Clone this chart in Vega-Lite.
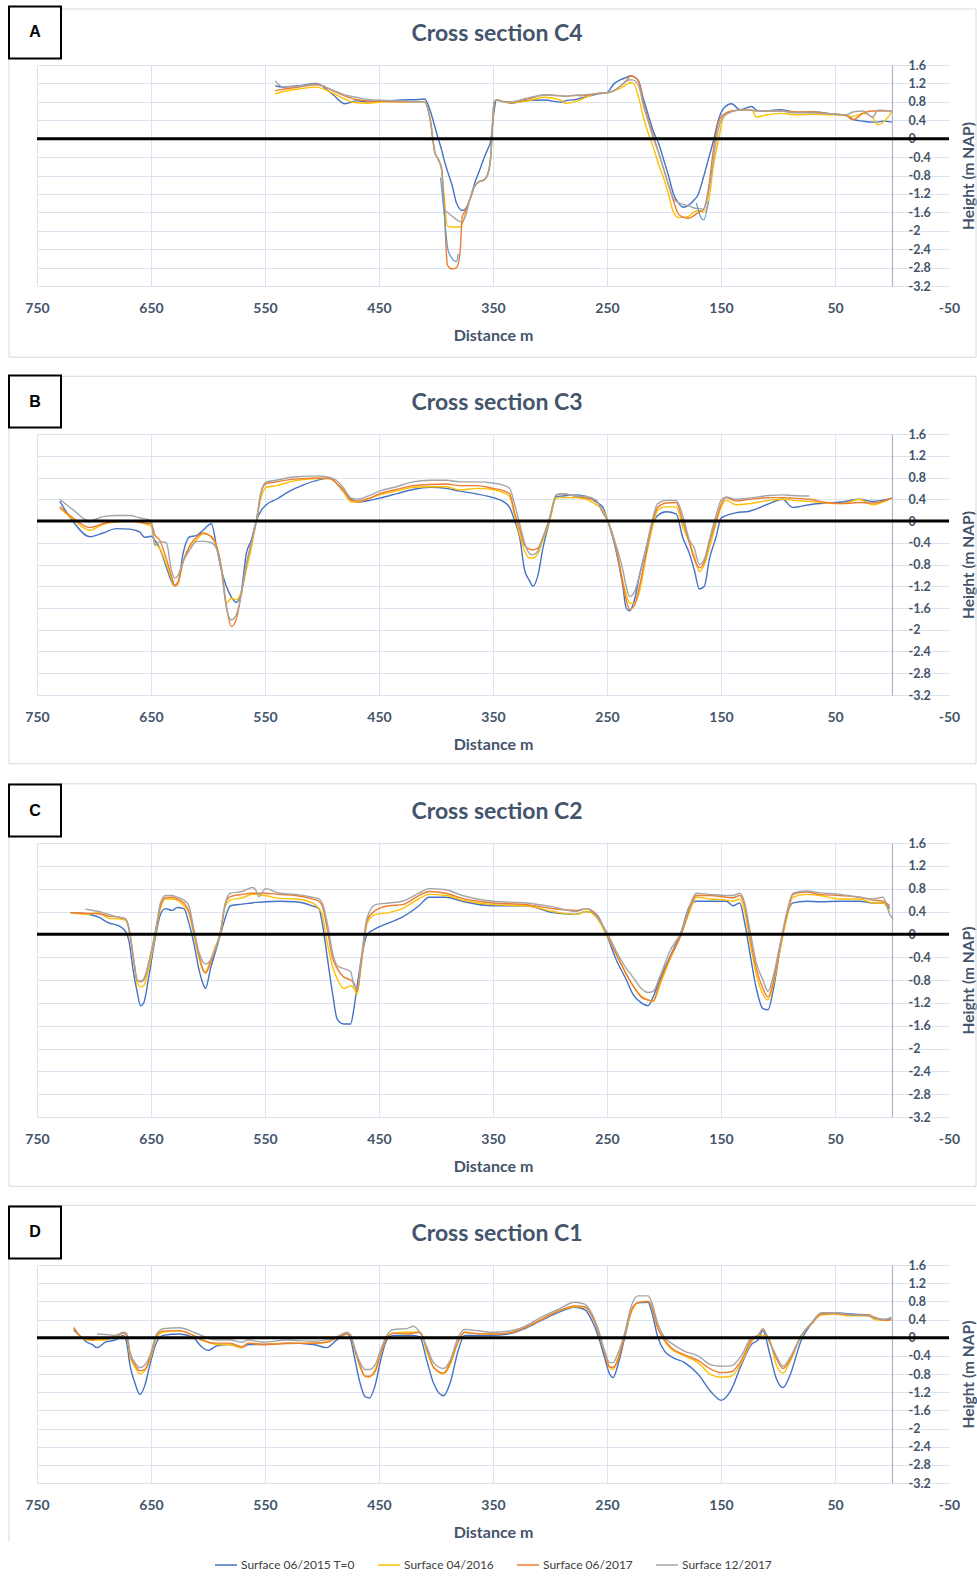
{
"$schema": "https://vega.github.io/schema/vega-lite/v6.json",
"padding": {"left": 8, "top": 5, "right": 0, "bottom": 5},
"spacing": 148,
"bounds": "flush",
"datasets": {
"sec": [
{"p":"A","d":541,"a":1.15,"b":0.97,"c":1.04,"e":1.26},
{"p":"A","d":535,"a":1.12,"b":1.02,"c":1.07,"e":1.13},
{"p":"A","d":520,"a":1.15,"b":1.08,"c":1.12,"e":1.14},
{"p":"A","d":505,"a":1.2,"b":1.12,"c":1.17,"e":1.19},
{"p":"A","d":495,"a":1.05,"b":1.04,"c":1.1,"e":1.1},
{"p":"A","d":490,"a":0.95,"b":0.98,"c":1.03,"e":1.05},
{"p":"A","d":480,"a":0.76,"b":0.86,"c":0.93,"e":0.95},
{"p":"A","d":470,"a":0.82,"b":0.78,"c":0.85,"e":0.9},
{"p":"A","d":460,"a":0.8,"b":0.77,"c":0.82,"e":0.85},
{"p":"A","d":445,"a":0.82,"b":0.8,"c":0.81,"e":0.83},
{"p":"A","d":430,"a":0.84,"b":0.8,"c":0.8,"e":0.82},
{"p":"A","d":415,"a":0.85,"b":0.8,"c":0.8,"e":0.8},
{"p":"A","d":410,"a":0.86,"b":0.79,"c":0.8,"e":0.8},
{"p":"A","d":405,"a":0.6,"b":0.4,"c":0.4,"e":0.4},
{"p":"A","d":401,"a":0.26,"b":-0.3,"c":-0.3,"e":-0.3},
{"p":"A","d":398,"a":0,"b":-0.45,"c":-0.45,"e":-0.45},
{"p":"A","d":395,"a":-0.25,"b":-0.67,"c":-0.67,"e":-0.67},
{"p":"A","d":393,"a":-0.45,"b":-1.2,"c":-1.4,"e":-1.53},
{"p":"A","d":390,"a":-0.7,"b":-1.9,"c":-2.74,"e":-1.6},
{"p":"A","d":386,"a":-1,"b":-1.92,"c":-2.83,"e":-1.68},
{"p":"A","d":382,"a":-1.4,"b":-1.92,"c":-2.8,"e":-1.76},
{"p":"A","d":379,"a":-1.53,"b":-1.92,"c":-2.5,"e":-1.8},
{"p":"A","d":377,"a":-1.56,"b":-1.85,"c":-1.7,"e":-1.81},
{"p":"A","d":374,"a":-1.52,"b":-1.6,"c":-1.55,"e":-1.67},
{"p":"A","d":370,"a":-1.3,"b":-1.3,"c":-1.3,"e":-1.3},
{"p":"A","d":366,"a":-0.96,"b":-1.03,"c":-1.03,"e":-1.03},
{"p":"A","d":362,"a":-0.7,"b":-0.93,"c":-0.93,"e":-0.93},
{"p":"A","d":358,"a":-0.43,"b":-0.9,"c":-0.9,"e":-0.9},
{"p":"A","d":355,"a":-0.25,"b":-0.8,"c":-0.8,"e":-0.8},
{"p":"A","d":352,"a":-0.05,"b":-0.4,"c":-0.4,"e":-0.4},
{"p":"A","d":349,"a":0.61,"b":0.79,"c":0.79,"e":0.79},
{"p":"A","d":347,"a":0.84,"b":0.84,"c":0.84,"e":0.84},
{"p":"A","d":340,"a":0.8,"b":0.8,"c":0.8,"e":0.8},
{"p":"A","d":334,"a":0.77,"b":0.78,"c":0.8,"e":0.8},
{"p":"A","d":320,"a":0.83,"b":0.82,"c":0.86,"e":0.88},
{"p":"A","d":305,"a":0.84,"b":0.9,"c":0.95,"e":0.95},
{"p":"A","d":290,"a":0.79,"b":0.83,"c":0.93,"e":0.93},
{"p":"A","d":287,"a":0.82,"b":0.77,"c":0.92,"e":0.92},
{"p":"A","d":276,"a":0.86,"b":0.82,"c":0.94,"e":0.95},
{"p":"A","d":273,"a":0.88,"b":0.85,"c":0.93,"e":0.95},
{"p":"A","d":256,"a":0.98,"b":0.99,"c":0.99,"e":0.99},
{"p":"A","d":250,"a":1,"b":0.99,"c":1,"e":1},
{"p":"A","d":244,"a":1.19,"b":1.04,"c":1.04,"e":1.04},
{"p":"A","d":238,"a":1.28,"b":1.1,"c":1.15,"e":1.15},
{"p":"A","d":232,"a":1.34,"b":1.19,"c":1.29,"e":1.26},
{"p":"A","d":229.6,"a":1.37,"b":1.22,"c":1.36,"e":1.28},
{"p":"A","d":226.7,"a":1.35,"b":1.2,"c":1.35,"e":1.27},
{"p":"A","d":222.3,"a":1.25,"b":0.9,"c":1.25,"e":1.15},
{"p":"A","d":217.9,"a":0.85,"b":0.45,"c":0.75,"e":0.7},
{"p":"A","d":213.6,"a":0.5,"b":0.1,"c":0.4,"e":0.35},
{"p":"A","d":209.2,"a":0.15,"b":-0.2,"c":0.05,"e":0},
{"p":"A","d":204.8,"a":-0.1,"b":-0.55,"c":-0.3,"e":-0.3},
{"p":"A","d":200.4,"a":-0.45,"b":-0.85,"c":-0.65,"e":-0.65},
{"p":"A","d":196.1,"a":-0.8,"b":-1.2,"c":-1,"e":-1},
{"p":"A","d":191.7,"a":-1.2,"b":-1.6,"c":-1.35,"e":-1.3},
{"p":"A","d":187.3,"a":-1.4,"b":-1.71,"c":-1.64,"e":-1.39},
{"p":"A","d":182.9,"a":-1.49,"b":-1.71,"c":-1.71,"e":-1.43},
{"p":"A","d":178.6,"a":-1.45,"b":-1.69,"c":-1.73,"e":-1.46},
{"p":"A","d":174.2,"a":-1.35,"b":-1.6,"c":-1.68,"e":-1.5},
{"p":"A","d":169.8,"a":-1.2,"b":-1.56,"c":-1.6,"e":-1.52},
{"p":"A","d":165.5,"a":-0.85,"b":-1.6,"c":-1.55,"e":-1.53},
{"p":"A","d":161.1,"a":-0.45,"b":-1.4,"c":-1.1,"e":-1.2},
{"p":"A","d":156.7,"a":-0.05,"b":-0.6,"c":-0.25,"e":-0.45},
{"p":"A","d":152.3,"a":0.4,"b":-0.05,"c":0.35,"e":0.2},
{"p":"A","d":148,"a":0.65,"b":0.45,"c":0.52,"e":0.48},
{"p":"A","d":140.7,"a":0.76,"b":0.6,"c":0.6,"e":0.58},
{"p":"A","d":133.4,"a":0.63,"b":0.62,"c":0.62,"e":0.62},
{"p":"A","d":123.2,"a":0.7,"b":0.62,"c":0.62,"e":0.62},
{"p":"A","d":118.8,"a":0.62,"b":0.47,"c":0.6,"e":0.6},
{"p":"A","d":113,"a":0.6,"b":0.5,"c":0.6,"e":0.6},
{"p":"A","d":98.4,"a":0.63,"b":0.55,"c":0.6,"e":0.6},
{"p":"A","d":83.8,"a":0.57,"b":0.52,"c":0.58,"e":0.56},
{"p":"A","d":69.2,"a":0.58,"b":0.53,"c":0.58,"e":0.56},
{"p":"A","d":54.6,"a":0.54,"b":0.52,"c":0.54,"e":0.54},
{"p":"A","d":40,"a":0.5,"b":0.5,"c":0.5,"e":0.52},
{"p":"A","d":34.3,"a":0.42,"b":0.48,"c":0.41,"e":0.58},
{"p":"A","d":25.5,"a":0.38,"b":0.55,"c":0.55,"e":0.6},
{"p":"A","d":16.8,"a":0.36,"b":0.45,"c":0.6,"e":0.47},
{"p":"A","d":12.4,"a":0.36,"b":0.3,"c":0.6,"e":0.62},
{"p":"A","d":8,"a":0.38,"b":0.35,"c":0.6,"e":0.62},
{"p":"A","d":0,"a":0.36,"b":0.58,"c":0.6,"e":0.58},
{"p":"A","d":396,"f":-0.85,"g":1},
{"p":"A","d":393.5,"f":-1.46,"g":1},
{"p":"A","d":389,"f":-2.46,"g":1},
{"p":"A","d":382,"f":-2.67,"g":1},
{"p":"A","d":380.5,"f":-2.5,"g":1},
{"p":"A","d":171.6,"f":-1.4,"g":2},
{"p":"A","d":167.1,"f":-1.73,"g":2},
{"p":"A","d":165,"f":-1.76,"g":2},
{"p":"A","d":161,"f":-1.35,"g":2},
{"p":"B","d":730,"a":0.36,"b":0.24,"c":0.26,"e":0.4},
{"p":"B","d":718,"a":-0.02,"b":0.02,"c":0.05,"e":0.2},
{"p":"B","d":703.8,"a":-0.29,"b":-0.17,"c":-0.12,"e":0},
{"p":"B","d":692,"a":-0.22,"b":-0.06,"c":-0.05,"e":0.08},
{"p":"B","d":680.4,"a":-0.14,"b":-0.02,"c":0,"e":0.1},
{"p":"B","d":668.7,"a":-0.15,"b":0,"c":0,"e":0.1},
{"p":"B","d":660,"a":-0.2,"b":-0.03,"c":-0.02,"e":0.06},
{"p":"B","d":655.6,"a":-0.3,"b":-0.05,"c":-0.04,"e":0.04},
{"p":"B","d":649.7,"a":-0.28,"b":-0.1,"c":-0.05,"e":0},
{"p":"B","d":646.8,"a":-0.35,"b":-0.4,"c":-0.25,"e":-0.45},
{"p":"B","d":642.4,"a":-0.5,"b":-0.5,"c":-0.35,"e":-0.38},
{"p":"B","d":636.5,"a":-0.85,"b":-0.8,"c":-0.7,"e":-0.4},
{"p":"B","d":632.2,"a":-1.1,"b":-1.05,"c":-1,"e":-0.9},
{"p":"B","d":629.2,"a":-1.2,"b":-1.2,"c":-1.18,"e":-1.05},
{"p":"B","d":626.3,"a":-1.15,"b":-1.15,"c":-1.12,"e":-1},
{"p":"B","d":621.9,"a":-0.6,"b":-0.75,"c":-0.75,"e":-0.75},
{"p":"B","d":616,"a":-0.29,"b":-0.48,"c":-0.45,"e":-0.53},
{"p":"B","d":610.2,"a":-0.27,"b":-0.35,"c":-0.3,"e":-0.38},
{"p":"B","d":604.4,"a":-0.17,"b":-0.23,"c":-0.22,"e":-0.37},
{"p":"B","d":597,"a":-0.05,"b":-0.28,"c":-0.3,"e":-0.4},
{"p":"B","d":592.7,"a":-0.45,"b":-0.45,"c":-0.45,"e":-0.5},
{"p":"B","d":588.3,"a":-0.9,"b":-0.85,"c":-0.85,"e":-0.9},
{"p":"B","d":583.9,"a":-1.2,"b":-1.51,"c":-1.55,"e":-1.6},
{"p":"B","d":579.5,"a":-1.4,"b":-1.42,"c":-1.94,"e":-1.82},
{"p":"B","d":575.1,"a":-1.5,"b":-1.45,"c":-1.8,"e":-1.72},
{"p":"B","d":570.8,"a":-1.3,"b":-1.3,"c":-1.35,"e":-1.35},
{"p":"B","d":566.4,"a":-0.6,"b":-0.9,"c":-0.81,"e":-0.8},
{"p":"B","d":562,"a":-0.35,"b":-0.5,"c":-0.4,"e":-0.4},
{"p":"B","d":557.6,"a":0,"b":0,"c":0,"e":0},
{"p":"B","d":553.2,"a":0.2,"b":0.45,"c":0.55,"e":0.55},
{"p":"B","d":548.8,"a":0.3,"b":0.62,"c":0.69,"e":0.72},
{"p":"B","d":540,"a":0.4,"b":0.65,"c":0.72,"e":0.75},
{"p":"B","d":528.4,"a":0.55,"b":0.72,"c":0.76,"e":0.8},
{"p":"B","d":516.7,"a":0.66,"b":0.76,"c":0.78,"e":0.82},
{"p":"B","d":502,"a":0.76,"b":0.78,"c":0.79,"e":0.83},
{"p":"B","d":493.3,"a":0.79,"b":0.78,"c":0.78,"e":0.8},
{"p":"B","d":487.4,"a":0.7,"b":0.7,"c":0.7,"e":0.75},
{"p":"B","d":481.6,"a":0.55,"b":0.55,"c":0.58,"e":0.62},
{"p":"B","d":474.3,"a":0.4,"b":0.35,"c":0.38,"e":0.42},
{"p":"B","d":468.4,"a":0.35,"b":0.35,"c":0.37,"e":0.4},
{"p":"B","d":458.2,"a":0.38,"b":0.42,"c":0.42,"e":0.47},
{"p":"B","d":449.5,"a":0.42,"b":0.48,"c":0.5,"e":0.55},
{"p":"B","d":434.8,"a":0.5,"b":0.55,"c":0.58,"e":0.63},
{"p":"B","d":420.2,"a":0.58,"b":0.62,"c":0.65,"e":0.72},
{"p":"B","d":405.6,"a":0.62,"b":0.63,"c":0.67,"e":0.75},
{"p":"B","d":391,"a":0.6,"b":0.63,"c":0.68,"e":0.75},
{"p":"B","d":379.2,"a":0.55,"b":0.57,"c":0.65,"e":0.72},
{"p":"B","d":364.6,"a":0.5,"b":0.6,"c":0.65,"e":0.72},
{"p":"B","d":350,"a":0.43,"b":0.58,"c":0.6,"e":0.7},
{"p":"B","d":341.2,"a":0.36,"b":0.52,"c":0.56,"e":0.66},
{"p":"B","d":335.4,"a":0.25,"b":0.45,"c":0.5,"e":0.6},
{"p":"B","d":331,"a":0,"b":0.1,"c":0.15,"e":0.3},
{"p":"B","d":326.6,"a":-0.3,"b":-0.25,"c":-0.15,"e":-0.05},
{"p":"B","d":322.3,"a":-0.9,"b":-0.55,"c":-0.45,"e":-0.4},
{"p":"B","d":317.9,"a":-1.1,"b":-0.68,"c":-0.52,"e":-0.6},
{"p":"B","d":315,"a":-1.2,"b":-0.68,"c":-0.53,"e":-0.62},
{"p":"B","d":310.6,"a":-1,"b":-0.6,"c":-0.5,"e":-0.55},
{"p":"B","d":306.2,"a":-0.5,"b":-0.35,"c":-0.3,"e":-0.3},
{"p":"B","d":300.4,"a":0,"b":0,"c":0.05,"e":0.05},
{"p":"B","d":294.5,"a":0.45,"b":0.42,"c":0.48,"e":0.48},
{"p":"B","d":288.7,"a":0.46,"b":0.43,"c":0.5,"e":0.5},
{"p":"B","d":277,"a":0.48,"b":0.43,"c":0.45,"e":0.46},
{"p":"B","d":268.2,"a":0.45,"b":0.4,"c":0.42,"e":0.45},
{"p":"B","d":259.5,"a":0.35,"b":0.3,"c":0.38,"e":0.38},
{"p":"B","d":253.6,"a":0.25,"b":0.2,"c":0.15,"e":0.15},
{"p":"B","d":249.3,"a":0,"b":0,"c":0,"e":0},
{"p":"B","d":242,"a":-0.55,"b":-0.5,"c":-0.5,"e":-0.45},
{"p":"B","d":236.1,"a":-1.2,"b":-1.1,"c":-1.15,"e":-0.9},
{"p":"B","d":233.2,"a":-1.6,"b":-1.35,"c":-1.45,"e":-1.2},
{"p":"B","d":230.3,"a":-1.65,"b":-1.5,"c":-1.62,"e":-1.39},
{"p":"B","d":225.9,"a":-1.45,"b":-1.52,"c":-1.55,"e":-1.3},
{"p":"B","d":221.5,"a":-1,"b":-1.3,"c":-1.2,"e":-1},
{"p":"B","d":215.7,"a":-0.5,"b":-0.65,"c":-0.6,"e":-0.5},
{"p":"B","d":209.9,"a":-0.05,"b":-0.1,"c":0,"e":0.05},
{"p":"B","d":205.5,"a":0.1,"b":0.2,"c":0.25,"e":0.32},
{"p":"B","d":198.2,"a":0.17,"b":0.26,"c":0.33,"e":0.38},
{"p":"B","d":189.4,"a":0.13,"b":0.26,"c":0.34,"e":0.38},
{"p":"B","d":183.6,"a":-0.3,"b":-0.1,"c":0,"e":0.1},
{"p":"B","d":177.7,"a":-0.6,"b":-0.4,"c":-0.4,"e":-0.35},
{"p":"B","d":173.4,"a":-0.9,"b":-0.65,"c":-0.7,"e":-0.5},
{"p":"B","d":169,"a":-1.25,"b":-0.93,"c":-0.86,"e":-0.8},
{"p":"B","d":164.6,"a":-1.2,"b":-0.8,"c":-0.75,"e":-0.7},
{"p":"B","d":160.2,"a":-0.7,"b":-0.5,"c":-0.4,"e":-0.35},
{"p":"B","d":154.4,"a":-0.3,"b":-0.05,"c":0,"e":0.1},
{"p":"B","d":150,"a":0.05,"b":0.25,"c":0.3,"e":0.38},
{"p":"B","d":145.6,"a":0.1,"b":0.38,"c":0.43,"e":0.44},
{"p":"B","d":136.9,"a":0.15,"b":0.3,"c":0.37,"e":0.4},
{"p":"B","d":125.2,"a":0.18,"b":0.32,"c":0.4,"e":0.42},
{"p":"B","d":107.7,"a":0.32,"b":0.38,"c":0.43,"e":0.47},
{"p":"B","d":96,"a":0.4,"b":0.4,"c":0.43,"e":0.48},
{"p":"B","d":87.2,"a":0.25,"b":0.38,"c":0.42,"e":0.47},
{"p":"B","d":72.6,"a":0.3,"b":0.36,"c":0.4,"e":0.46},
{"p":"B","d":58,"a":0.33,"b":0.33,"c":0.34},
{"p":"B","d":43.4,"a":0.35,"b":0.32,"c":0.32},
{"p":"B","d":28.8,"a":0.4,"b":0.4,"c":0.34},
{"p":"B","d":17.2,"a":0.36,"b":0.3,"c":0.33},
{"p":"B","d":0.2,"a":0.42,"b":0.42,"c":0.42},
{"p":"C","d":720.7,"a":0.38,"b":0.38,"c":0.38},
{"p":"C","d":707.6,"a":0.36,"b":0.35,"c":0.37,"e":0.44},
{"p":"C","d":695.9,"a":0.3,"b":0.38,"c":0.36,"e":0.4},
{"p":"C","d":687.1,"a":0.2,"b":0.28,"c":0.32,"e":0.35},
{"p":"C","d":678.3,"a":0.15,"b":0.27,"c":0.3,"e":0.3},
{"p":"C","d":672.4,"a":0.05,"b":0.25,"c":0.27,"e":0.27},
{"p":"C","d":669.5,"a":-0.1,"b":0.1,"c":0.12,"e":0.12},
{"p":"C","d":665.1,"a":-0.7,"b":-0.5,"c":-0.45,"e":-0.45},
{"p":"C","d":662.2,"a":-1,"b":-0.85,"c":-0.8,"e":-0.8},
{"p":"C","d":659.3,"a":-1.25,"b":-0.92,"c":-0.83,"e":-0.82},
{"p":"C","d":656.4,"a":-1.2,"b":-0.9,"c":-0.8,"e":-0.78},
{"p":"C","d":652,"a":-0.75,"b":-0.6,"c":-0.5,"e":-0.5},
{"p":"C","d":646.1,"a":-0.05,"b":0,"c":0.05,"e":0.05},
{"p":"C","d":641.7,"a":0.35,"b":0.45,"c":0.5,"e":0.55},
{"p":"C","d":637.3,"a":0.45,"b":0.62,"c":0.64,"e":0.68},
{"p":"C","d":631.5,"a":0.42,"b":0.62,"c":0.65,"e":0.68},
{"p":"C","d":627.1,"a":0.47,"b":0.6,"c":0.62,"e":0.65},
{"p":"C","d":621.2,"a":0.45,"b":0.5,"c":0.55,"e":0.6},
{"p":"C","d":616.8,"a":0.2,"b":0.38,"c":0.4,"e":0.5},
{"p":"C","d":612.5,"a":-0.15,"b":0,"c":0.05,"e":0.1},
{"p":"C","d":608.1,"a":-0.6,"b":-0.4,"c":-0.35,"e":-0.3},
{"p":"C","d":603.7,"a":-0.9,"b":-0.65,"c":-0.65,"e":-0.5},
{"p":"C","d":602.2,"a":-0.95,"b":-0.65,"c":-0.68,"e":-0.52},
{"p":"C","d":597.8,"a":-0.6,"b":-0.45,"c":-0.5,"e":-0.45},
{"p":"C","d":593.4,"a":-0.3,"b":-0.2,"c":-0.25,"e":-0.25},
{"p":"C","d":589,"a":0,"b":0,"c":0.05,"e":0.05},
{"p":"C","d":584.7,"a":0.3,"b":0.5,"c":0.55,"e":0.55},
{"p":"C","d":580.3,"a":0.5,"b":0.6,"c":0.66,"e":0.72},
{"p":"C","d":570,"a":0.53,"b":0.64,"c":0.7,"e":0.75},
{"p":"C","d":561,"a":0.55,"b":0.7,"c":0.72,"e":0.82},
{"p":"C","d":558.3,"a":0.56,"b":0.7,"c":0.72,"e":0.78},
{"p":"C","d":555.4,"a":0.56,"b":0.69,"c":0.72,"e":0.66},
{"p":"C","d":549.5,"a":0.57,"b":0.68,"c":0.72,"e":0.8},
{"p":"C","d":537.8,"a":0.58,"b":0.63,"c":0.7,"e":0.72},
{"p":"C","d":523.2,"a":0.57,"b":0.62,"c":0.68,"e":0.7},
{"p":"C","d":508.6,"a":0.5,"b":0.55,"c":0.62,"e":0.65},
{"p":"C","d":502.7,"a":0.45,"b":0.45,"c":0.58,"e":0.62},
{"p":"C","d":499.8,"a":0.2,"b":0.35,"c":0.5,"e":0.55},
{"p":"C","d":495.4,"a":-0.4,"b":-0.15,"c":0.1,"e":0.2},
{"p":"C","d":491,"a":-1,"b":-0.55,"c":-0.4,"e":-0.3},
{"p":"C","d":486.6,"a":-1.49,"b":-0.78,"c":-0.6,"e":-0.55},
{"p":"C","d":480.8,"a":-1.57,"b":-0.95,"c":-0.75,"e":-0.6},
{"p":"C","d":474.9,"a":-1.57,"b":-0.9,"c":-0.8,"e":-0.65},
{"p":"C","d":472,"a":-1.3,"b":-0.95,"c":-0.85,"e":-0.9},
{"p":"C","d":469.1,"a":-0.9,"b":-1.05,"c":-1,"e":-0.95},
{"p":"C","d":466.1,"a":-0.5,"b":-0.6,"c":-0.6,"e":-0.5},
{"p":"C","d":460.3,"a":0,"b":0.2,"c":0.25,"e":0.3},
{"p":"C","d":453,"a":0.1,"b":0.35,"c":0.42,"e":0.52},
{"p":"C","d":441.3,"a":0.2,"b":0.38,"c":0.5,"e":0.55},
{"p":"C","d":429.6,"a":0.3,"b":0.45,"c":0.52,"e":0.58},
{"p":"C","d":415,"a":0.5,"b":0.62,"c":0.68,"e":0.72},
{"p":"C","d":406.1,"a":0.65,"b":0.7,"c":0.75,"e":0.8},
{"p":"C","d":391.5,"a":0.65,"b":0.68,"c":0.72,"e":0.78},
{"p":"C","d":376.9,"a":0.58,"b":0.6,"c":0.63,"e":0.68},
{"p":"C","d":350,"a":0.5,"b":0.52,"c":0.55,"e":0.58},
{"p":"C","d":320.8,"a":0.5,"b":0.5,"c":0.52,"e":0.55},
{"p":"C","d":297.4,"a":0.38,"b":0.4,"c":0.45,"e":0.48},
{"p":"C","d":277,"a":0.35,"b":0.35,"c":0.42,"e":0.4},
{"p":"C","d":268.1,"a":0.4,"b":0.4,"c":0.45,"e":0.45},
{"p":"C","d":259.4,"a":0.35,"b":0.3,"c":0.35,"e":0.32},
{"p":"C","d":250.6,"a":0,"b":0,"c":0.02,"e":0.05},
{"p":"C","d":241.8,"a":-0.45,"b":-0.35,"c":-0.35,"e":-0.3},
{"p":"C","d":233,"a":-0.8,"b":-0.7,"c":-0.7,"e":-0.6},
{"p":"C","d":227.2,"a":-1.05,"b":-0.9,"c":-0.9,"e":-0.75},
{"p":"C","d":219.9,"a":-1.2,"b":-1.08,"c":-1.1,"e":-0.95},
{"p":"C","d":214,"a":-1.25,"b":-1.15,"c":-1.15,"e":-1.02},
{"p":"C","d":209.6,"a":-1.1,"b":-1.18,"c":-1.17,"e":-1},
{"p":"C","d":203.8,"a":-0.8,"b":-0.9,"c":-0.85,"e":-0.75},
{"p":"C","d":195,"a":-0.4,"b":-0.45,"c":-0.42,"e":-0.3},
{"p":"C","d":184.8,"a":0.05,"b":0,"c":0,"e":0.05},
{"p":"C","d":177.5,"a":0.5,"b":0.4,"c":0.45,"e":0.5},
{"p":"C","d":171.6,"a":0.58,"b":0.65,"c":0.68,"e":0.72},
{"p":"C","d":160,"a":0.58,"b":0.62,"c":0.68,"e":0.7},
{"p":"C","d":145.3,"a":0.58,"b":0.6,"c":0.65,"e":0.68},
{"p":"C","d":139.5,"a":0.5,"b":0.58,"c":0.64,"e":0.68},
{"p":"C","d":133.6,"a":0.55,"b":0.62,"c":0.68,"e":0.72},
{"p":"C","d":129.2,"a":0.2,"b":0.4,"c":0.5,"e":0.55},
{"p":"C","d":124.9,"a":-0.3,"b":-0.1,"c":0,"e":0.1},
{"p":"C","d":119,"a":-0.95,"b":-0.7,"c":-0.6,"e":-0.5},
{"p":"C","d":113.2,"a":-1.3,"b":-1.05,"c":-0.95,"e":-0.8},
{"p":"C","d":108.8,"a":-1.32,"b":-1.15,"c":-1.1,"e":-1},
{"p":"C","d":104.4,"a":-1,"b":-0.9,"c":-0.85,"e":-0.75},
{"p":"C","d":98.5,"a":-0.3,"b":-0.3,"c":-0.25,"e":-0.2},
{"p":"C","d":92.7,"a":0.3,"b":0.25,"c":0.3,"e":0.35},
{"p":"C","d":86.8,"a":0.55,"b":0.65,"c":0.7,"e":0.72},
{"p":"C","d":75.1,"a":0.58,"b":0.7,"c":0.74,"e":0.76},
{"p":"C","d":63.5,"a":0.57,"b":0.68,"c":0.7,"e":0.73},
{"p":"C","d":45.9,"a":0.58,"b":0.62,"c":0.68,"e":0.7},
{"p":"C","d":28.4,"a":0.58,"b":0.62,"c":0.65,"e":0.65},
{"p":"C","d":16.7,"a":0.55,"b":0.55,"c":0.6,"e":0.62},
{"p":"C","d":7.9,"a":0.55,"b":0.55,"c":0.58,"e":0.65},
{"p":"C","d":2,"a":0.45,"b":0.4,"c":0.5,"e":0.35},
{"p":"C","d":-0.9,"e":0.27},
{"p":"D","d":717.8,"a":0.17,"b":0.22,"c":0.22},
{"p":"D","d":710.5,"a":0,"b":0,"c":0},
{"p":"D","d":706.1,"a":-0.1,"b":-0.05,"c":-0.02},
{"p":"D","d":701.7,"a":-0.15,"b":-0.06,"c":-0.05},
{"p":"D","d":697.3,"a":-0.22,"b":-0.05,"c":-0.02,"e":0.08},
{"p":"D","d":690,"a":-0.1,"b":-0.05,"c":-0.02,"e":0.07},
{"p":"D","d":681.2,"a":-0.05,"b":0.05,"c":0,"e":0.05},
{"p":"D","d":674.4,"a":0.05,"b":0.1,"c":0.1,"e":0.12},
{"p":"D","d":671.4,"a":-0.1,"b":0.05,"c":0.05,"e":0.1},
{"p":"D","d":668.5,"a":-0.6,"b":-0.4,"c":-0.35,"e":-0.3},
{"p":"D","d":664.1,"a":-1,"b":-0.65,"c":-0.6,"e":-0.55},
{"p":"D","d":659.7,"a":-1.25,"b":-0.8,"c":-0.73,"e":-0.66},
{"p":"D","d":655.4,"a":-1.05,"b":-0.72,"c":-0.7,"e":-0.6},
{"p":"D","d":651,"a":-0.6,"b":-0.5,"c":-0.45,"e":-0.4},
{"p":"D","d":645.1,"a":-0.1,"b":0,"c":0.05,"e":0.08},
{"p":"D","d":639.3,"a":0.05,"b":0.12,"c":0.15,"e":0.2},
{"p":"D","d":624.6,"a":0.08,"b":0.15,"c":0.15,"e":0.22},
{"p":"D","d":612.9,"a":0,"b":0.05,"c":0.05,"e":0.12},
{"p":"D","d":605.6,"a":-0.2,"b":-0.05,"c":-0.05,"e":0.05},
{"p":"D","d":599.7,"a":-0.28,"b":-0.1,"c":-0.1,"e":-0.02},
{"p":"D","d":592.4,"a":-0.18,"b":-0.15,"c":-0.12,"e":-0.05},
{"p":"D","d":580.6,"a":-0.15,"b":-0.15,"c":-0.12,"e":-0.05},
{"p":"D","d":570.5,"a":-0.22,"b":-0.22,"c":-0.2,"e":-0.1},
{"p":"D","d":564.6,"a":-0.15,"b":-0.12,"c":-0.12,"e":-0.05},
{"p":"D","d":551.5,"a":-0.15,"b":-0.15,"c":-0.15,"e":-0.1},
{"p":"D","d":531,"a":-0.12,"b":-0.12,"c":-0.13,"e":-0.05},
{"p":"D","d":507.6,"a":-0.15,"b":-0.12,"c":-0.12,"e":-0.08},
{"p":"D","d":495.9,"a":-0.22,"b":-0.1,"c":-0.1,"e":-0.05},
{"p":"D","d":487.1,"a":-0.05,"b":0,"c":0,"e":0.02},
{"p":"D","d":478.3,"a":0.08,"b":0.08,"c":0.08,"e":0.12},
{"p":"D","d":475.4,"a":0,"b":0.05,"c":0.05,"e":0.08},
{"p":"D","d":471,"a":-0.5,"b":-0.3,"c":-0.3,"e":-0.25},
{"p":"D","d":466.6,"a":-1,"b":-0.65,"c":-0.62,"e":-0.55},
{"p":"D","d":462.2,"a":-1.3,"b":-0.85,"c":-0.85,"e":-0.7},
{"p":"D","d":458.4,"a":-1.33,"b":-0.87,"c":-0.85,"e":-0.7},
{"p":"D","d":453.4,"a":-1.05,"b":-0.7,"c":-0.75,"e":-0.6},
{"p":"D","d":449,"a":-0.55,"b":-0.4,"c":-0.4,"e":-0.3},
{"p":"D","d":443.1,"a":-0.05,"b":0,"c":0,"e":0.05},
{"p":"D","d":437.3,"a":0.05,"b":0.1,"c":0.1,"e":0.18},
{"p":"D","d":425.6,"a":0.05,"b":0.12,"c":0.08,"e":0.2},
{"p":"D","d":419.7,"a":0.05,"b":0.12,"c":0.1,"e":0.25},
{"p":"D","d":413.9,"a":0,"b":0.12,"c":0.12,"e":0.1},
{"p":"D","d":408.1,"a":-0.5,"b":-0.3,"c":-0.25,"e":-0.2},
{"p":"D","d":402.2,"a":-1,"b":-0.65,"c":-0.65,"e":-0.55},
{"p":"D","d":393.4,"a":-1.28,"b":-0.8,"c":-0.78,"e":-0.68},
{"p":"D","d":387.6,"a":-1,"b":-0.6,"c":-0.55,"e":-0.5},
{"p":"D","d":380.7,"a":-0.3,"b":-0.1,"c":-0.1,"e":0},
{"p":"D","d":374.9,"a":0.05,"b":0.12,"c":0.12,"e":0.18},
{"p":"D","d":369,"a":0.05,"b":0.1,"c":0.1,"e":0.17},
{"p":"D","d":351.5,"a":0.05,"b":0.08,"c":0.08,"e":0.12},
{"p":"D","d":336.8,"a":0.08,"b":0.1,"c":0.1,"e":0.14},
{"p":"D","d":322.2,"a":0.2,"b":0.22,"c":0.22,"e":0.25},
{"p":"D","d":307.6,"a":0.38,"b":0.4,"c":0.4,"e":0.45},
{"p":"D","d":293,"a":0.55,"b":0.58,"c":0.58,"e":0.62},
{"p":"D","d":278.4,"a":0.67,"b":0.68,"c":0.7,"e":0.78},
{"p":"D","d":269.6,"a":0.62,"b":0.68,"c":0.68,"e":0.74},
{"p":"D","d":263.7,"a":0.4,"b":0.5,"c":0.5,"e":0.55},
{"p":"D","d":257.9,"a":0.05,"b":0.15,"c":0.15,"e":0.2},
{"p":"D","d":252,"a":-0.45,"b":-0.3,"c":-0.35,"e":-0.3},
{"p":"D","d":247.7,"a":-0.8,"b":-0.65,"c":-0.65,"e":-0.55},
{"p":"D","d":244.7,"a":-0.88,"b":-0.7,"c":-0.65,"e":-0.55},
{"p":"D","d":240.4,"a":-0.6,"b":-0.45,"c":-0.5,"e":-0.35},
{"p":"D","d":234.5,"a":0,"b":0.05,"c":0.05,"e":0.1},
{"p":"D","d":228.7,"a":0.58,"b":0.55,"c":0.6,"e":0.7},
{"p":"D","d":222.8,"a":0.77,"b":0.77,"c":0.77,"e":0.92},
{"p":"D","d":214,"a":0.78,"b":0.8,"c":0.8,"e":0.92},
{"p":"D","d":211.1,"a":0.6,"b":0.7,"c":0.72,"e":0.8},
{"p":"D","d":205.3,"a":0,"b":0.2,"c":0.2,"e":0.3},
{"p":"D","d":199.4,"a":-0.3,"b":-0.08,"c":-0.05,"e":0},
{"p":"D","d":193.6,"a":-0.42,"b":-0.25,"c":-0.22,"e":-0.12},
{"p":"D","d":181.9,"a":-0.55,"b":-0.4,"c":-0.38,"e":-0.3},
{"p":"D","d":170.2,"a":-0.8,"b":-0.55,"c":-0.5,"e":-0.4},
{"p":"D","d":158.5,"a":-1.2,"b":-0.82,"c":-0.7,"e":-0.6},
{"p":"D","d":149.8,"a":-1.38,"b":-0.87,"c":-0.77,"e":-0.63},
{"p":"D","d":141.1,"a":-1.15,"b":-0.85,"c":-0.75,"e":-0.62},
{"p":"D","d":132.2,"a":-0.6,"b":-0.55,"c":-0.5,"e":-0.4},
{"p":"D","d":123.4,"a":-0.15,"b":-0.1,"c":-0.05,"e":0},
{"p":"D","d":117.5,"a":-0.05,"b":0.05,"c":0.05,"e":0.05},
{"p":"D","d":113.2,"a":0.15,"b":0.05,"c":0.18,"e":0.2},
{"p":"D","d":107.3,"a":-0.35,"b":-0.05,"c":-0.1,"e":-0.1},
{"p":"D","d":101.5,"a":-0.9,"b":-0.6,"c":-0.45,"e":-0.4},
{"p":"D","d":95.6,"a":-1.1,"b":-0.78,"c":-0.68,"e":-0.63},
{"p":"D","d":89.8,"a":-0.85,"b":-0.55,"c":-0.5,"e":-0.45},
{"p":"D","d":79.5,"a":-0.05,"b":0.05,"c":0.05,"e":0.05},
{"p":"D","d":70.8,"a":0.3,"b":0.3,"c":0.3,"e":0.32},
{"p":"D","d":62,"a":0.52,"b":0.5,"c":0.52,"e":0.55},
{"p":"D","d":50.3,"a":0.55,"b":0.52,"c":0.53,"e":0.55},
{"p":"D","d":35.7,"a":0.52,"b":0.48,"c":0.5,"e":0.5},
{"p":"D","d":21.1,"a":0.5,"b":0.48,"c":0.5,"e":0.48},
{"p":"D","d":15.2,"a":0.43,"b":0.4,"c":0.45,"e":0.43},
{"p":"D","d":6.4,"a":0.4,"b":0.38,"c":0.38,"e":0.4},
{"p":"D","d":0.6,"a":0.42,"b":0.38,"c":0.4,"e":0.45}
]
},
"data": {"name": "sec"},
"vconcat": [
{
"width": 912, "height": 221,
"title": {"text": "Cross section C4"},
"transform": [{"filter": "datum.p == 'A'"}],
"layer": [
{"data": {"values": [{}]}, "mark": {"type": "rect", "fill": null, "stroke": "#D9D9D9", "strokeWidth": 1}, "encoding": {"x": {"datum": 774.56, "type": "quantitative"}, "x2": {"datum": -73.68}, "y": {"datum": 2.8163, "type": "quantitative"}, "y2": {"datum": -4.7464}}},
{"transform": [{"fold": ["a","b","c","e"], "as": ["k","h"]}, {"filter": "isValid(datum.h)"}],
 "mark": {"type": "line", "strokeWidth": 1.4, "interpolate": "monotone"},
 "encoding": {
  "x": {"field": "d", "type": "quantitative", "scale": {"domain": [-50, 750], "reverse": true, "nice": false, "zero": false}, "axis": {"values": [750,650,550,450,350,250,150,50,-50], "tickCount": 20, "title": "Distance m", "labelExpr": "'' + datum.value", "gridOpacity": {"condition": {"test": "datum.value == -50", "value": 0}, "value": 1}}},
  "y": {"field": "h", "type": "quantitative", "scale": {"domain": [-3.2, 1.6], "nice": false, "zero": false}, "axis": {"orient": "right", "offset": -57, "values": [1.6,1.2,0.8,0.4,0,-0.4,-0.8,-1.2,-1.6,-2,-2.4,-2.8,-3.2], "tickCount": 20, "title": "Height (m NAP)", "labelExpr": "'' + datum.value"}},
  "color": {"field": "k", "type": "nominal", "scale": {"domain": ["a","b","c","e"], "range": ["#4472C4","#FFC000","#ED7D31","#A5A5A5"]}, "legend": {"title": null, "labelExpr": "datum.label == 'a' ? 'Surface 06/2015 T=0' : datum.label == 'b' ? 'Surface 04/2016' : datum.label == 'c' ? 'Surface 06/2017' : 'Surface 12/2017'"}}
 }},
{"transform": [{"filter": "isValid(datum.f)"}],
 "mark": {"type": "line", "color": "#5B9BD5", "strokeWidth": 1.2, "interpolate": "monotone"},
 "encoding": {"x": {"field": "d", "type": "quantitative"}, "y": {"field": "f", "type": "quantitative"}, "detail": {"field": "g", "type": "nominal"}}},
{"data": {"values": [{}]}, "mark": {"type": "rule", "color": "#000000", "strokeWidth": 3}, "encoding": {"y": {"datum": 0, "type": "quantitative"}}},
{"data": {"values": [{}]}, "mark": {"type": "rect", "fill": "#ffffff", "stroke": "#000000", "strokeWidth": 2}, "encoding": {"x": {"datum": 774.56, "type": "quantitative"}, "x2": {"datum": 728.95}, "y": {"datum": 2.8706, "type": "quantitative"}, "y2": {"datum": 1.7412}}},
{"data": {"values": [{}]}, "mark": {"type": "text", "text": "A", "font": "Liberation Sans", "fontWeight": "bold", "fontSize": 16, "color": "#000000"}, "encoding": {"x": {"datum": 751.75, "type": "quantitative"}, "y": {"datum": 2.3059, "type": "quantitative"}}}
]
},
{
"width": 912, "height": 261,
"title": {"text": "Cross section C3"},
"transform": [{"filter": "datum.p == 'B'"}],
"layer": [
{"data": {"values": [{}]}, "mark": {"type": "rect", "fill": null, "stroke": "#D9D9D9", "strokeWidth": 1}, "encoding": {"x": {"datum": 774.56, "type": "quantitative"}, "x2": {"datum": -73.68}, "y": {"datum": 2.6611, "type": "quantitative"}, "y2": {"datum": -4.4634}}},
{"transform": [{"fold": ["a","b","c","e"], "as": ["k","h"]}, {"filter": "isValid(datum.h)"}],
 "mark": {"type": "line", "strokeWidth": 1.4, "interpolate": "monotone"},
 "encoding": {
  "x": {"field": "d", "type": "quantitative", "scale": {"domain": [-50, 750], "reverse": true, "nice": false, "zero": false}, "axis": {"values": [750,650,550,450,350,250,150,50,-50], "tickCount": 20, "title": "Distance m", "labelExpr": "'' + datum.value", "gridOpacity": {"condition": {"test": "datum.value == -50", "value": 0}, "value": 1}}},
  "y": {"field": "h", "type": "quantitative", "scale": {"domain": [-3.2, 1.6], "nice": false, "zero": false}, "axis": {"orient": "right", "offset": -57, "values": [1.6,1.2,0.8,0.4,0,-0.4,-0.8,-1.2,-1.6,-2,-2.4,-2.8,-3.2], "tickCount": 20, "title": "Height (m NAP)", "labelExpr": "'' + datum.value"}},
  "color": {"field": "k", "type": "nominal", "scale": {"domain": ["a","b","c","e"], "range": ["#4472C4","#FFC000","#ED7D31","#A5A5A5"]}, "legend": {"title": null, "labelExpr": "datum.label == 'a' ? 'Surface 06/2015 T=0' : datum.label == 'b' ? 'Surface 04/2016' : datum.label == 'c' ? 'Surface 06/2017' : 'Surface 12/2017'"}}
 }},
{"data": {"values": [{}]}, "mark": {"type": "rule", "color": "#000000", "strokeWidth": 3}, "encoding": {"y": {"datum": 0, "type": "quantitative"}}},
{"data": {"values": [{}]}, "mark": {"type": "rect", "fill": "#ffffff", "stroke": "#000000", "strokeWidth": 2}, "encoding": {"x": {"datum": 774.56, "type": "quantitative"}, "x2": {"datum": 728.95}, "y": {"datum": 2.6759, "type": "quantitative"}, "y2": {"datum": 1.7195}}},
{"data": {"values": [{}]}, "mark": {"type": "text", "text": "B", "font": "Liberation Sans", "fontWeight": "bold", "fontSize": 16, "color": "#000000"}, "encoding": {"x": {"datum": 751.75, "type": "quantitative"}, "y": {"datum": 2.1977, "type": "quantitative"}}}
]
},
{
"width": 912, "height": 274,
"title": {"text": "Cross section C2"},
"transform": [{"filter": "datum.p == 'C'"}],
"layer": [
{"data": {"values": [{}]}, "mark": {"type": "rect", "fill": null, "stroke": "#D9D9D9", "strokeWidth": 1}, "encoding": {"x": {"datum": 774.56, "type": "quantitative"}, "x2": {"datum": -73.68}, "y": {"datum": 2.6371, "type": "quantitative"}, "y2": {"datum": -4.4141}}},
{"transform": [{"fold": ["a","b","c","e"], "as": ["k","h"]}, {"filter": "isValid(datum.h)"}],
 "mark": {"type": "line", "strokeWidth": 1.4, "interpolate": "monotone"},
 "encoding": {
  "x": {"field": "d", "type": "quantitative", "scale": {"domain": [-50, 750], "reverse": true, "nice": false, "zero": false}, "axis": {"values": [750,650,550,450,350,250,150,50,-50], "tickCount": 20, "title": "Distance m", "labelExpr": "'' + datum.value", "gridOpacity": {"condition": {"test": "datum.value == -50", "value": 0}, "value": 1}}},
  "y": {"field": "h", "type": "quantitative", "scale": {"domain": [-3.2, 1.6], "nice": false, "zero": false}, "axis": {"orient": "right", "offset": -57, "values": [1.6,1.2,0.8,0.4,0,-0.4,-0.8,-1.2,-1.6,-2,-2.4,-2.8,-3.2], "tickCount": 20, "title": "Height (m NAP)", "labelExpr": "'' + datum.value"}},
  "color": {"field": "k", "type": "nominal", "scale": {"domain": ["a","b","c","e"], "range": ["#4472C4","#FFC000","#ED7D31","#A5A5A5"]}, "legend": {"title": null, "labelExpr": "datum.label == 'a' ? 'Surface 06/2015 T=0' : datum.label == 'b' ? 'Surface 04/2016' : datum.label == 'c' ? 'Surface 06/2017' : 'Surface 12/2017'"}}
 }},
{"data": {"values": [{}]}, "mark": {"type": "rule", "color": "#000000", "strokeWidth": 3}, "encoding": {"y": {"datum": 0, "type": "quantitative"}}},
{"data": {"values": [{}]}, "mark": {"type": "rect", "fill": "#ffffff", "stroke": "#000000", "strokeWidth": 2}, "encoding": {"x": {"datum": 774.56, "type": "quantitative"}, "x2": {"datum": 728.95}, "y": {"datum": 2.6248, "type": "quantitative"}, "y2": {"datum": 1.7139}}},
{"data": {"values": [{}]}, "mark": {"type": "text", "text": "C", "font": "Liberation Sans", "fontWeight": "bold", "fontSize": 16, "color": "#000000"}, "encoding": {"x": {"datum": 751.75, "type": "quantitative"}, "y": {"datum": 2.1693, "type": "quantitative"}}}
]
},
{
"width": 912, "height": 218,
"title": {"text": "Cross section C1"},
"transform": [{"filter": "datum.p == 'D'"}],
"layer": [
{"data": {"values": [{}]}, "mark": {"type": "rule", "stroke": "#D9D9D9", "strokeWidth": 1}, "encoding": {"x": {"datum": 774.56, "type": "quantitative"}, "x2": {"datum": -73.68}, "y": {"datum": 2.9123, "type": "quantitative"}}},
{"data": {"values": [{}]}, "mark": {"type": "rule", "stroke": "#D9D9D9", "strokeWidth": 1}, "encoding": {"x": {"datum": 774.56, "type": "quantitative"}, "y": {"datum": 2.9123, "type": "quantitative"}, "y2": {"datum": -4.477}}},
{"transform": [{"fold": ["a","b","c","e"], "as": ["k","h"]}, {"filter": "isValid(datum.h)"}],
 "mark": {"type": "line", "strokeWidth": 1.4, "interpolate": "monotone"},
 "encoding": {
  "x": {"field": "d", "type": "quantitative", "scale": {"domain": [-50, 750], "reverse": true, "nice": false, "zero": false}, "axis": {"values": [750,650,550,450,350,250,150,50,-50], "tickCount": 20, "title": "Distance m", "labelExpr": "'' + datum.value", "gridOpacity": {"condition": {"test": "datum.value == -50", "value": 0}, "value": 1}}},
  "y": {"field": "h", "type": "quantitative", "scale": {"domain": [-3.2, 1.6], "nice": false, "zero": false}, "axis": {"orient": "right", "offset": -57, "values": [1.6,1.2,0.8,0.4,0,-0.4,-0.8,-1.2,-1.6,-2,-2.4,-2.8,-3.2], "tickCount": 20, "title": "Height (m NAP)", "labelExpr": "'' + datum.value"}},
  "color": {"field": "k", "type": "nominal", "scale": {"domain": ["a","b","c","e"], "range": ["#4472C4","#FFC000","#ED7D31","#A5A5A5"]}, "legend": {"title": null, "labelExpr": "datum.label == 'a' ? 'Surface 06/2015 T=0' : datum.label == 'b' ? 'Surface 04/2016' : datum.label == 'c' ? 'Surface 06/2017' : 'Surface 12/2017'"}}
 }},
{"data": {"values": [{}]}, "mark": {"type": "rule", "color": "#000000", "strokeWidth": 3}, "encoding": {"y": {"datum": 0, "type": "quantitative"}}},
{"data": {"values": [{}]}, "mark": {"type": "rect", "fill": "#ffffff", "stroke": "#000000", "strokeWidth": 2}, "encoding": {"x": {"datum": 774.56, "type": "quantitative"}, "x2": {"datum": 728.95}, "y": {"datum": 2.8881, "type": "quantitative"}, "y2": {"datum": 1.7431}}},
{"data": {"values": [{}]}, "mark": {"type": "text", "text": "D", "font": "Liberation Sans", "fontWeight": "bold", "fontSize": 16, "color": "#000000"}, "encoding": {"x": {"datum": 751.75, "type": "quantitative"}, "y": {"datum": 2.3156, "type": "quantitative"}}}
]
}
],
"config": {
 "view": {"stroke": null},
 "font": "Lato",
 "title": {"font": "Lato", "fontSize": 23, "fontWeight": "bold", "color": "#44546A", "anchor": "middle", "frame": "group", "offset": -41, "baseline": "middle", "dx": 4},
 "axisX": {"grid": true, "gridColor": "#DCE3EE", "gridWidth": 1, "ticks": false, "domain": false, "labelFont": "Lato", "labelFontSize": 14, "labelFontWeight": "bold", "labelColor": "#44546A", "labelPadding": 15, "labelFlush": false, "labelOverlap": false, "titleFont": "Lato", "titleFontSize": 16, "titleFontWeight": "bold", "titleColor": "#44546A", "titlePadding": 12},
 "axisY": {"grid": true, "gridColor": "#DCE3EE", "gridWidth": 1, "ticks": false, "domain": true, "domainColor": "#A8B6CC", "domainWidth": 1.2, "labelFont": "Lato", "labelFontSize": 12.5, "labelFontWeight": "bold", "labelColor": "#44546A", "labelPadding": 16, "labelFlush": false, "labelOverlap": false, "titleFont": "Lato", "titleFontSize": 15.5, "titleFontWeight": "bold", "titleColor": "#44546A", "titleAngle": 270, "titleBaseline": "top", "titlePadding": 31},
 "legend": {"orient": "bottom", "direction": "horizontal", "symbolType": "stroke", "symbolSize": 484, "symbolStrokeWidth": 1.5, "labelFont": "Lato", "labelFontSize": 12, "labelColor": "#404040", "columnPadding": 20, "labelOffset": 3, "offset": 11, "layout": {"bottom": {"anchor": "middle"}}}
}
}
